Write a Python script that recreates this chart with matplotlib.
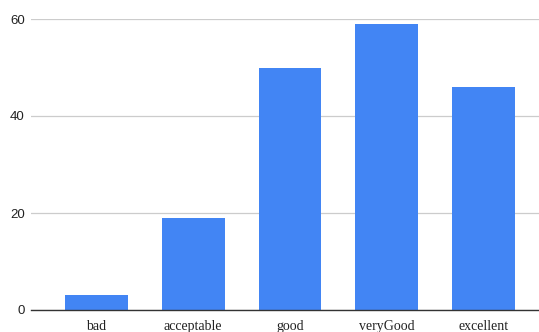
import matplotlib
matplotlib.use("Agg")
import matplotlib.pyplot as plt

# ratings and counts
categories = ["bad", "acceptable", "good", "veryGood", "excellent"]
counts = [3, 19, 50, 59, 46]
yticks = [0, 20, 40, 60]

fig = plt.figure(figsize=(5.39, 3.32), dpi=100)
ax = fig.add_axes([31 / 539, 22 / 332, 1 - 31 / 539, (310 - 19) / 332])

x = list(range(len(categories)))
ax.bar(x, counts, width=0.65, color="#4285F4", zorder=3)

ax.set_xlim(-0.675, 4.572)
ax.set_ylim(0, 60)
ax.set_yticks(yticks)
ax.set_xticks(x)
ax.set_xticklabels(categories, fontfamily="Liberation Serif", fontsize=10, color="#222222")
for lbl in ax.get_yticklabels():
    lbl.set_fontfamily("Liberation Sans")
    lbl.set_fontsize(9.5)
    lbl.set_color("#222222")

ax.grid(axis="y", color="#cccccc", linewidth=0.9, zorder=0)
ax.tick_params(axis="both", length=0)
ax.tick_params(axis="y", pad=4.5)
ax.tick_params(axis="x", pad=7)
for side in ["top", "right", "left"]:
    ax.spines[side].set_visible(False)
ax.spines["bottom"].set_color("#333333")
ax.spines["bottom"].set_linewidth(1.0)
ax.spines["bottom"].set_zorder(4)

fig.savefig("out.png", dpi=100)
